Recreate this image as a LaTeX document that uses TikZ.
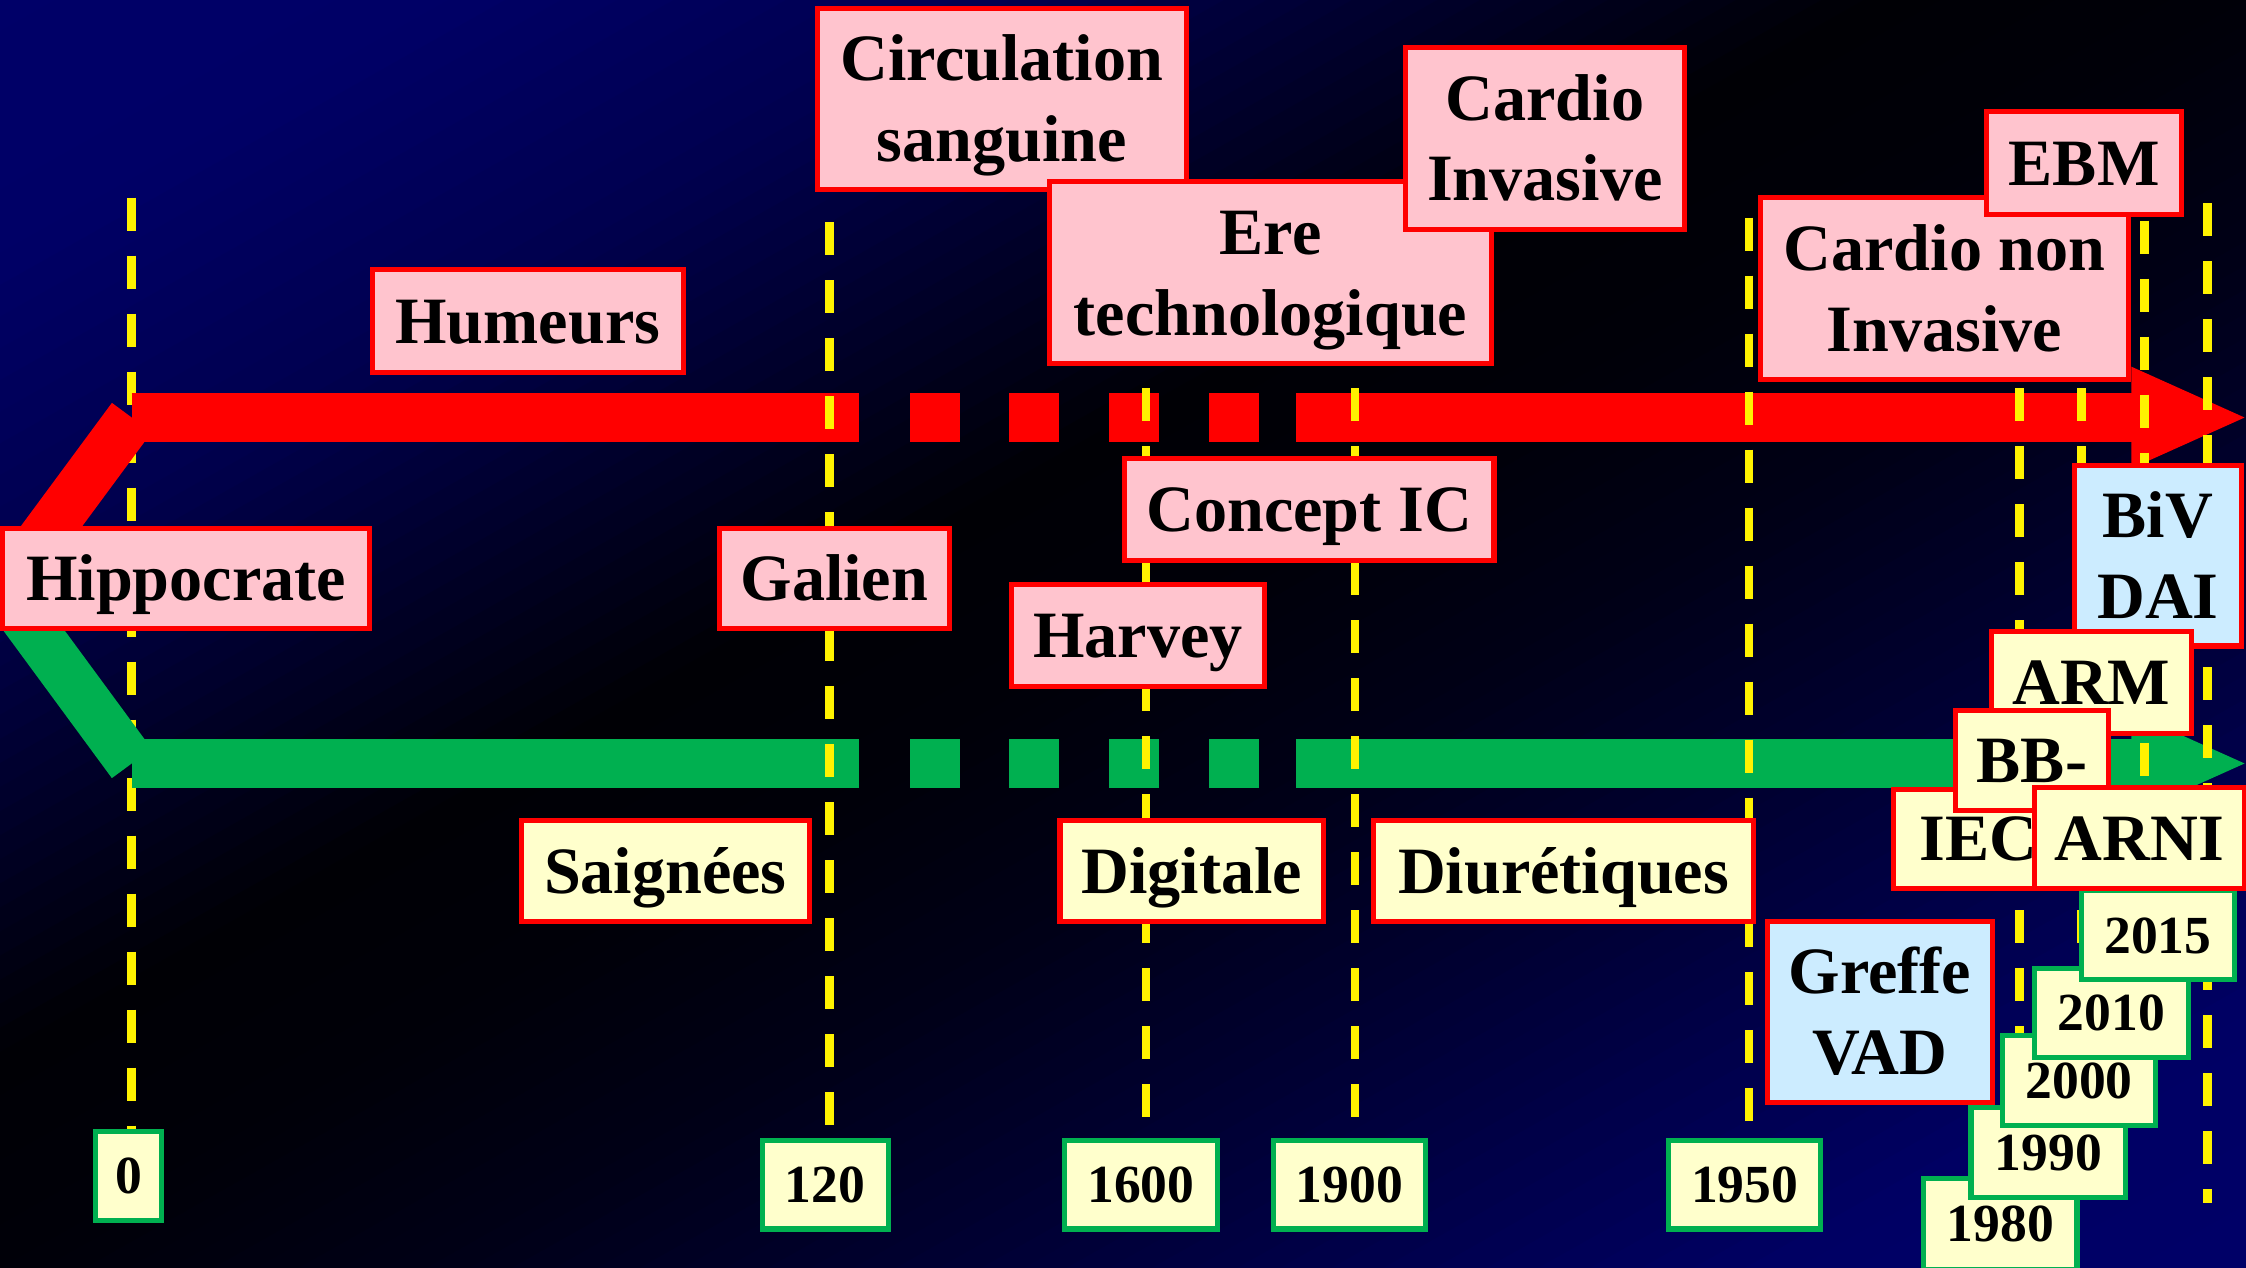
\documentclass[tikz,border=0pt]{standalone}
\usepackage{fontspec}
\setmainfont{Liberation Serif}
\definecolor{bandgreen}{RGB}{0,176,80}
\definecolor{boxpink}{RGB}{255,196,206}
\definecolor{boxblue}{RGB}{204,236,255}
\definecolor{boxyellow}{RGB}{255,255,204}
% fixed line box so that text sits like in a slide text frame
\newcommand\lst{\rule[-0.22em]{0pt}{1.11em}}
\begin{document}
\begin{tikzpicture}[x=0.02cm,y=-0.02cm,
  every node/.style={inner sep=0pt, outer sep=0pt, align=center,
    font=\fontsize{26.3}{32}\selectfont\bfseries},
  sz/.style 2 args={minimum width=#1*0.02cm, minimum height=#2*0.02cm},
  redframe/.style={draw=red, line width=2pt},
  pinkbox/.style={redframe, fill=boxpink},
  bluebox/.style={redframe, fill=boxblue},
  yellowbox/.style={redframe, fill=boxyellow},
  yearbox/.style={draw=bandgreen, line width=2pt, fill=boxyellow,
    font=\fontsize{21.3}{25}\selectfont\bfseries},
  band/.style={line width=0.69cm},
  yline/.style={draw=yellow, line width=0.12cm, dash pattern=on 0.46cm off 0.35cm}]

\useasboundingbox (0,0) rectangle (1568,885);

% background: navy / black / navy, banded along the rising diagonal
% (c = x/1568 + y/885; each entry: from s, blue level, to s, blue level; s = c-1)
\begin{scope}
  \clip (0,0) rectangle (1568,885);
  \fill[black] (0,0) rectangle (1568,885);
  \foreach \sa/\ba/\sb/\bb in {-1.05/104/-0.8/102, -0.8/102/-0.55/78,
      -0.55/78/-0.36/42, -0.36/42/-0.17/5, -0.17/5/0/8, 0/8/0.19/22,
      0.19/22/0.38/45, 0.38/45/0.57/70, 0.57/70/0.8/100, 0.8/100/1.05/104}{
    \foreach \i in {0,...,9}{
      \pgfmathsetmacro\ca{1+(\sa)+((\sb)-(\sa))*\i/10}
      \pgfmathsetmacro\cb{1+(\sa)+((\sb)-(\sa))*(\i+1.4)/10}
      \pgfmathtruncatemacro\bv{round((\ba)+((\bb)-(\ba))*(\i+0.5)/10)}
      \definecolor{stripc}{RGB}{0,0,\bv}
      \fill[stripc] ({\ca*784-2352},{\ca*442.5+1327.5})
        -- ({\ca*784+2352},{\ca*442.5-1327.5})
        -- ({\cb*784+2352},{\cb*442.5-1327.5})
        -- ({\cb*784-2352},{\cb*442.5+1327.5}) -- cycle;
    }
  }
\end{scope}

% first time line, partly under the chevron
\draw[yline] (92,138) -- (92,790);

% the two evolution bands
\coordinate (v) at (3,412);
\coordinate (r0) at (92,291.5);
\coordinate (g0) at (92,533);
\draw[band, red] (v) -- (r0);
\draw[band, red] (r0) -- (600,291.5);
\foreach \a in {635,704.5,774,844} \fill[red] (\a,274.25) rectangle ++(35,34.5);
\draw[band, red] (905,291.5) -- (1490,291.5);
\fill[red] (1488,256) -- (1567,291.5) -- (1488,327) -- cycle;

\draw[band, bandgreen] (v) -- (g0);
\draw[band, bandgreen] (g0) -- (600,533);
\foreach \a in {635,704.5,774,844} \fill[bandgreen] (\a,515.75) rectangle ++(35,34.5);
\draw[band, bandgreen] (905,533) -- (1490,533);
\fill[bandgreen] (1488,497.5) -- (1567,533) -- (1488,568.5) -- cycle;

% time lines
\draw[yline] (579,155) -- (579,796);
\draw[yline] (800,271) -- (800,796);
\draw[yline] (946,271) -- (946,796);
\draw[yline] (1221,152) -- (1221,796);
\draw[yline] (1410,271) -- (1410,724);
\draw[yline] (1453,271) -- (1453,690);
\draw[yline] (1497,154) -- (1497,700);
\draw[yline] (1541,142) -- (1541,840);

% upper labels
\node[pinkbox, sz={257}{126}] (circ) at (699.5,69) {\lst Circulation\\sanguine\lst};
\node[pinkbox, sz={308}{127}] (ere) at (887,190.5) {\lst Ere\\technologique\lst};
\node[pinkbox, sz={195}{127}] (cinv) at (1078.5,96.5) {\lst Cardio\\Invasive\lst};
\node[pinkbox, sz={217}{72}] (hum) at (368.5,224) {\lst Humeurs};
\node[pinkbox, sz={257}{127}] (cnon) at (1357.5,201.5) {\lst Cardio non\\Invasive\lst};
\node[pinkbox, sz={136}{72}] (ebm) at (1455,114) {\lst EBM};

% middle labels
\node[pinkbox, sz={256}{70}] (hippo) at (130,404) {\lst Hippocrate};
\node[pinkbox, sz={161}{70}] (galien) at (582.5,404) {\lst Galien};
\node[pinkbox, sz={258}{71}] (concept) at (914,355.5) {\lst Concept IC};
\node[pinkbox, sz={177}{71}] (harvey) at (794.5,443.5) {\lst Harvey};
\node[bluebox, sz={117}{126}] (biv) at (1506.5,388) {\lst BiV\\DAI\lst};

% lower labels
\node[yellowbox, sz={201}{70}] (saign) at (464.5,608) {\lst Saignées};
\node[yellowbox, sz={184}{70}] (digit) at (832,608) {\lst Digitale};
\node[yellowbox, sz={265}{70}] (diur) at (1091.5,608) {\lst Diurétiques};
\node[bluebox, sz={157}{127}] (greffe) at (1312.5,706.5) {\lst Greffe\\VAD\lst};
\node[yellowbox, sz={140}{71}] (arm) at (1460,476.5) {\lst ARM};
\node[yellowbox, sz={118}{69}] (iec) at (1381,585.5) {\lst IEC};
\node[yellowbox, sz={107}{70}] (bb) at (1418.5,531) {\lst BB-};

% dates
\node[yearbox, sz={46}{62}] (d0) at (90,821) {\lst 0};
\node[yearbox, sz={88}{62}] (d120) at (576,827) {\lst 120};
\node[yearbox, sz={107}{62}] (d1600) at (796.5,827) {\lst 1600};
\node[yearbox, sz={106}{62}] (d1900) at (942,827) {\lst 1900};
\node[yearbox, sz={106}{62}] (d1950) at (1218,827) {\lst 1950};
\node[yearbox, sz={107}{63}] (d1980) at (1396.5,854.5) {\lst 1980};
\node[yearbox, sz={108}{63}] (d1990) at (1430,804.5) {\lst 1990};
\node[yearbox, sz={107}{63}] (d2000) at (1451.5,754.5) {\lst 2000};
\node[yearbox, sz={108}{62}] (d2010) at (1474,707) {\lst 2010};
\node[yearbox, sz={107}{62}] (d2015) at (1506.5,653) {\lst 2015};

\node[yellowbox, sz={147}{70}] (arni) at (1493.5,585) {\lst ARNI};
\end{tikzpicture}
\end{document}
